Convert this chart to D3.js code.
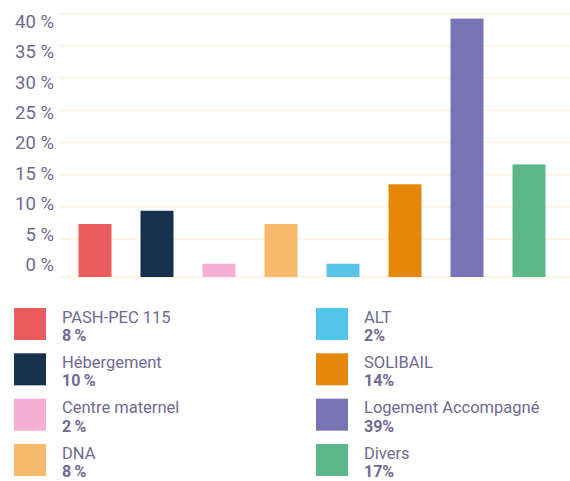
<!DOCTYPE html>
<html>
<head>
<meta charset="utf-8">
<script src="https://cdn.jsdelivr.net/npm/d3@7"></script>
<style>
  body { margin: 0; background: #fff; }
  svg { display: block; font-family: Roboto, "DejaVu Sans", sans-serif; }
</style>
</head>
<body>
<div id="chart"></div>
<script>
// chart data
var categories = ["PASH-PEC 115", "Hébergement", "Centre maternel", "DNA", "ALT", "SOLIBAIL", "Logement Accompagné", "Divers"];
var values = [8, 10, 2, 8, 2, 14, 39, 17];
var valueLabels = ["8\u2009%", "10\u2009%", "2\u2009%", "8\u2009%", "2%", "14%", "39%", "17%"];
var colors = ["#ea5c60", "#16304d", "#f5aed4", "#f7b96c", "#57c4e9", "#e5870a", "#7674b4", "#5cb889"];
var yTicks = [0, 5, 10, 15, 20, 25, 30, 35, 40];

var width = 570, height = 481, textColor = "#6f6a92", gridColor = "#fdf0dd";

var svg = d3.select("#chart").append("svg")
    .attr("width", width)
    .attr("height", height);

// x band for the bars
var x = d3.scaleBand().domain(categories).range([64, 560]).paddingInner(0.468).paddingOuter(0.234);
// bars scale, gridlines scale and labels scale (the source chart has them slightly offset)
var yBar = d3.scaleLinear().domain([0, 40]).range([277, 12]);
var yGrid = d3.scaleLinear().domain([0, 40]).range([271, 14]);
var yLabel = d3.scaleLinear().domain([0, 40]).range([264.5, 21]);

// gridlines
svg.append("g").selectAll("line").data(yTicks.filter(function(d){ return d > 0; })).enter().append("line")
    .attr("x1", 60).attr("x2", width)
    .attr("y1", function(d){ return yGrid(d); })
    .attr("y2", function(d){ return yGrid(d); })
    .style("stroke", gridColor).style("stroke-width", 1.5);

// baseline
svg.append("line")
    .attr("x1", 60).attr("x2", width)
    .attr("y1", yBar(0)).attr("y2", yBar(0))
    .style("stroke", gridColor).style("stroke-width", 1.5);

// tick labels
svg.append("g").selectAll("text").data(yTicks).enter().append("text")
    .attr("x", 54)
    .attr("y", function(d){ return yLabel(d); })
    .attr("dy", "0.36em")
    .attr("text-anchor", "end")
    .style("font-size", "18.5px")
    .style("fill", textColor)
    .text(function(d){ return d + " %"; });

// bars
svg.append("g").selectAll("rect").data(values).enter().append("rect")
    .attr("x", function(d, i){ return x(categories[i]); })
    .attr("y", function(d){ return yBar(d); })
    .attr("width", x.bandwidth())
    .attr("height", function(d){ return yBar(0) - yBar(d); })
    .style("fill", function(d, i){ return colors[i]; });

// legend, two columns of four
var legendCol = d3.scaleOrdinal().domain([0, 1]).range([14, 316]);
var legendRow = d3.scaleLinear().domain([0, 3]).range([308, 444]);

var items = svg.append("g").selectAll("g").data(categories).enter().append("g")
    .attr("transform", function(d, i){
        return "translate(" + legendCol(Math.floor(i / 4)) + "," + legendRow(i % 4) + ")";
    });

items.append("rect")
    .attr("width", 32).attr("height", 32)
    .style("fill", function(d, i){ return colors[i]; });

items.append("text")
    .attr("x", 48).attr("y", 14.5)
    .style("font-size", "16.5px")
    .style("fill", textColor)
    .text(function(d){ return d; });

items.append("text")
    .attr("x", 48).attr("y", 33)
    .style("font-size", "16px")
    .style("font-weight", "bold")
    .style("fill", textColor)
    .text(function(d, i){ return valueLabels[i]; });
</script>
</body>
</html>
